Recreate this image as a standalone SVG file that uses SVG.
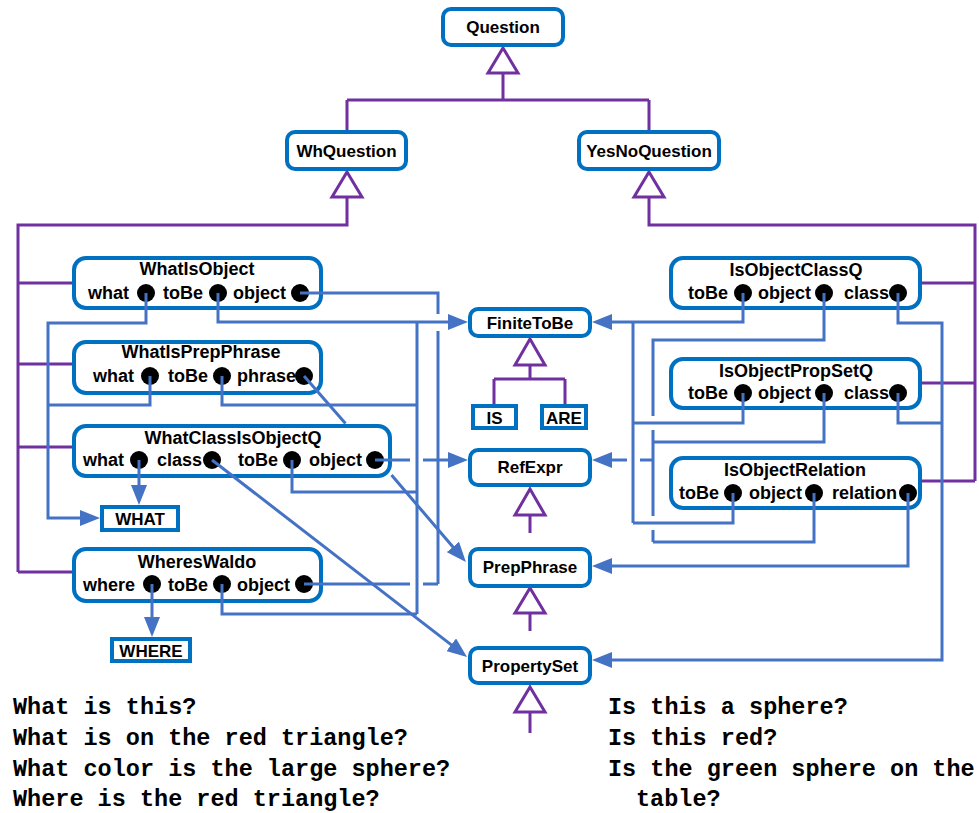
<svg xmlns="http://www.w3.org/2000/svg" width="979" height="813" viewBox="0 0 979 813">
  <defs>
    <marker id="arrow" markerUnits="userSpaceOnUse" markerWidth="20" markerHeight="16" refX="10" refY="8" orient="auto">
      <path d="M0,0 L20,8 L0,16 z" fill="#4472C4"/>
    </marker>
  </defs>
  <style>
    .box{fill:#fff;stroke:#0070C0;stroke-width:4}
    .lbl{font-family:"Liberation Sans",Arial,sans-serif;font-weight:bold;fill:#000}
    .t18{font-size:18px}
    .t16{font-size:17px}
    .t17{font-size:17px}
    .mid{text-anchor:middle}
    .dot{fill:#000}
    .inh{fill:none;stroke:#7030A0;stroke-width:3}
    .tri{fill:#fff;stroke:#7030A0;stroke-width:3;stroke-linejoin:miter}
    .link{fill:none;stroke:#4472C4;stroke-width:3}
    .arr{marker-end:url(#arrow)}
    .q{font-family:"Liberation Mono","DejaVu Sans Mono",monospace;font-weight:bold;font-size:23.5px;fill:#000}
  </style>

  <!-- inheritance (generalization) lines -->
  <g id="inheritance">
    <path class="inh" d="M503,73 V100 M347,100 H649 M347,100 V130 M649,100 V130"/>
    <polygon class="tri" points="503,48 518,73 488,73"/>
    <path class="inh" d="M347,197 V225 H18 V572 M18,283 H72 M18,364 H72 M18,447 H72 M18,572 H72"/>
    <polygon class="tri" points="347,172 362,197 332,197"/>
    <path class="inh" d="M649,197 V225 H975 V481 M975,283 H922 M975,383 H922 M975,481 H922"/>
    <polygon class="tri" points="649,172 664,197 634,197"/>
    <path class="inh" d="M530,365 V379 M494,379 H565 M494,379 V404 M565,379 V404"/>
    <polygon class="tri" points="530,339 545,365 515,365"/>
    <path class="inh" d="M530,515 V533"/>
    <polygon class="tri" points="530,489 545,515 515,515"/>
    <path class="inh" d="M530,613 V631"/>
    <polygon class="tri" points="530,588 545,613 515,613"/>
    <path class="inh" d="M530,712 V733"/>
    <polygon class="tri" points="530,687 545,712 515,712"/>
  </g>

  <!-- class nodes -->
  <g id="question">
    <rect class="box" x="443" y="9" width="120" height="36" rx="8"/>
    <text class="lbl t16 mid" x="503" y="33">Question</text>
  </g>
  <g id="whquestion">
    <rect class="box" x="287" y="132" width="119" height="37" rx="8"/>
    <text class="lbl t17 mid" x="346.5" y="157">WhQuestion</text>
  </g>
  <g id="yesnoquestion">
    <rect class="box" x="579" y="132" width="140" height="37" rx="8"/>
    <text class="lbl t16 mid" x="649" y="157">YesNoQuestion</text>
  </g>

  <g id="whatisobject">
    <rect class="box" x="74" y="258" width="247" height="50" rx="12"/>
    <text class="lbl t18 mid" x="197" y="275">WhatIsObject</text>
    <text class="lbl t18" x="88" y="299">what</text>
    <text class="lbl t18" x="163" y="299">toBe</text>
    <text class="lbl t18" x="233" y="299">object</text>
    <circle class="dot" cx="146" cy="293" r="9"/>
    <circle class="dot" cx="218" cy="293" r="9"/>
    <circle class="dot" cx="300" cy="293" r="9"/>
  </g>
  <g id="whatisprepphrase">
    <rect class="box" x="74" y="342" width="247" height="51" rx="12"/>
    <text class="lbl t18 mid" x="201" y="358">WhatIsPrepPhrase</text>
    <text class="lbl t18" x="93" y="382">what</text>
    <text class="lbl t18" x="168" y="382">toBe</text>
    <text class="lbl t18" x="237" y="382">phrase</text>
    <circle class="dot" cx="150" cy="376" r="9"/>
    <circle class="dot" cx="222" cy="376" r="9"/>
    <circle class="dot" cx="304" cy="376" r="9"/>
  </g>
  <g id="whatclassisobjectq">
    <rect class="box" x="74" y="426" width="316" height="50" rx="12"/>
    <text class="lbl t18 mid" x="233" y="444">WhatClassIsObjectQ</text>
    <text class="lbl t18" x="83" y="466">what</text>
    <text class="lbl t18" x="157" y="466">class</text>
    <text class="lbl t18" x="238" y="466">toBe</text>
    <text class="lbl t18" x="309" y="466">object</text>
    <circle class="dot" cx="139" cy="460" r="9"/>
    <circle class="dot" cx="212" cy="460" r="9"/>
    <circle class="dot" cx="292" cy="460" r="9"/>
    <circle class="dot" cx="375" cy="460" r="9"/>
  </g>
  <g id="whereswaldo">
    <rect class="box" x="74" y="549" width="247" height="52" rx="12"/>
    <text class="lbl t18 mid" x="197" y="568">WheresWaldo</text>
    <text class="lbl t18" x="83" y="591">where</text>
    <text class="lbl t18" x="168" y="591">toBe</text>
    <text class="lbl t18" x="237" y="591">object</text>
    <circle class="dot" cx="152" cy="584" r="9"/>
    <circle class="dot" cx="222" cy="584" r="9"/>
    <circle class="dot" cx="304" cy="584" r="9"/>
  </g>
  <g id="what">
    <rect class="box" x="102" y="507" width="76" height="23"/>
    <text class="lbl t17 mid" x="140" y="525">WHAT</text>
  </g>
  <g id="where">
    <rect class="box" x="112" y="639" width="78" height="22"/>
    <text class="lbl t17 mid" x="151" y="657">WHERE</text>
  </g>

  <g id="finitetobe">
    <rect class="box" x="470" y="309" width="120" height="27" rx="8"/>
    <text class="lbl t16 mid" x="530" y="329">FiniteToBe</text>
  </g>
  <g id="is">
    <rect class="box" x="473" y="406" width="43" height="22"/>
    <text class="lbl t17 mid" x="494.5" y="424">IS</text>
  </g>
  <g id="are">
    <rect class="box" x="542" y="406" width="44" height="22"/>
    <text class="lbl t17 mid" x="564" y="424">ARE</text>
  </g>
  <g id="refexpr">
    <rect class="box" x="470" y="450" width="120" height="35" rx="8"/>
    <text class="lbl t16 mid" x="530" y="473">RefExpr</text>
  </g>
  <g id="prepphrase">
    <rect class="box" x="470" y="549" width="120" height="37" rx="8"/>
    <text class="lbl t16 mid" x="530" y="573">PrepPhrase</text>
  </g>
  <g id="propertyset">
    <rect class="box" x="470" y="648" width="120" height="35" rx="8"/>
    <text class="lbl t16 mid" x="530" y="672">PropertySet</text>
  </g>

  <g id="isobjectclassq">
    <rect class="box" x="671" y="258" width="249" height="50" rx="12"/>
    <text class="lbl t18 mid" x="796" y="276">IsObjectClassQ</text>
    <text class="lbl t18" x="688" y="299">toBe</text>
    <text class="lbl t18" x="758" y="299">object</text>
    <text class="lbl t18" x="844" y="299">class</text>
    <circle class="dot" cx="743" cy="293" r="9"/>
    <circle class="dot" cx="824" cy="293" r="9"/>
    <circle class="dot" cx="898" cy="293" r="9"/>
  </g>
  <g id="isobjectpropsetq">
    <rect class="box" x="671" y="359" width="249" height="49" rx="12"/>
    <text class="lbl t18 mid" x="796" y="377">IsObjectPropSetQ</text>
    <text class="lbl t18" x="688" y="399">toBe</text>
    <text class="lbl t18" x="758" y="399">object</text>
    <text class="lbl t18" x="844" y="399">class</text>
    <circle class="dot" cx="743" cy="393" r="9"/>
    <circle class="dot" cx="824" cy="393" r="9"/>
    <circle class="dot" cx="898" cy="393" r="9"/>
  </g>
  <g id="isobjectrelation">
    <rect class="box" x="671" y="458" width="249" height="50" rx="12"/>
    <text class="lbl t18 mid" x="795" y="476">IsObjectRelation</text>
    <text class="lbl t18" x="679" y="499">toBe</text>
    <text class="lbl t18" x="749" y="499">object</text>
    <text class="lbl t18" x="832" y="499">relation</text>
    <circle class="dot" cx="733" cy="493" r="9"/>
    <circle class="dot" cx="814" cy="493" r="9"/>
    <circle class="dot" cx="908" cy="493" r="9"/>
  </g>

  <!-- attribute references (gaps mark crossings) -->
  <g id="connectors">
    <!-- what / where -->
    <path class="link arr" d="M146,293 V323 H48 V518 H90"/>
    <path class="link" d="M150,376 V405 H48"/>
    <path class="link arr" d="M139,460 V495"/>
    <path class="link arr" d="M152,584 V627"/>
    <!-- toBe -> FiniteToBe (left) -->
    <path class="link arr" d="M218,293 V322 H458"/>
    <path class="link" d="M417,322 V614"/>
    <path class="link" d="M222,376 V405 H417"/>
    <path class="link" d="M292,460 V492 H417"/>
    <path class="link" d="M222,584 V614 H417"/>
    <!-- object -> RefExpr (left) -->
    <path class="link" d="M300,293 H438 V314 M438,331 V584"/>
    <path class="link" d="M375,460 H410"/>
    <path class="link arr" d="M423,460 H458"/>
    <path class="link" d="M304,584 H410 M423,584 H438"/>
    <!-- phrase -> PrepPhrase, class -> PropertySet -->
    <path class="link" d="M304,376 L345.5,423.5"/>
    <path class="link arr" d="M391.5,475 L459.4,554.5"/>
    <path class="link arr" d="M212,460 L459.1,650.9"/>
    <!-- toBe -> FiniteToBe (right) -->
    <path class="link arr" d="M743,293 V322 H602"/>
    <path class="link" d="M633,322 V523"/>
    <path class="link" d="M743,393 V423 H633"/>
    <path class="link" d="M733,493 V523 H633"/>
    <!-- object -> RefExpr (right) -->
    <path class="link" d="M824,293 V340 H653 V416 M653,430 V516 M653,530 V542"/>
    <path class="link" d="M824,393 V442 H653"/>
    <path class="link" d="M814,493 V542 H653"/>
    <path class="link" d="M653,460 H640"/>
    <path class="link arr" d="M627,460 H602"/>
    <!-- class -> PropertySet, relation -> PrepPhrase -->
    <path class="link arr" d="M898,293 V323 H942 V660 H602"/>
    <path class="link" d="M898,393 V423 H942"/>
    <path class="link arr" d="M908,493 V566 H602"/>
  </g>

  <!-- example questions -->
  <g id="examples">
    <text class="q" x="13" y="714">What is this?</text>
    <text class="q" x="13" y="745">What is on the red triangle?</text>
    <text class="q" x="13" y="776">What color is the large sphere?</text>
    <text class="q" x="13" y="806">Where is the red triangle?</text>
    <text class="q" x="608" y="714">Is this a sphere?</text>
    <text class="q" x="608" y="745">Is this red?</text>
    <text class="q" x="608" y="776">Is the green sphere on the</text>
    <text class="q" x="636" y="806">table?</text>
  </g>
</svg>
